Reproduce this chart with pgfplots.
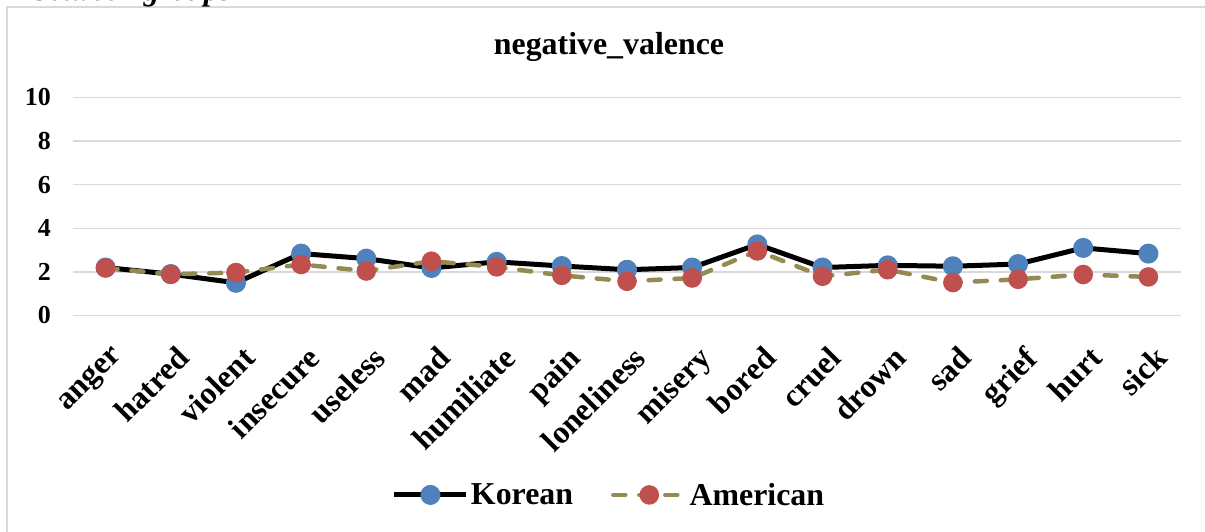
\documentclass[border=0pt]{standalone}
\usepackage{fontspec}
\setmainfont{Liberation Serif}
\usepackage{pgfplots}
\pgfplotsset{compat=1.18}
\definecolor{korblue}{HTML}{4F81BD}
\definecolor{amred}{HTML}{C0504D}
\definecolor{amolive}{HTML}{948A54}
\definecolor{gridgray}{HTML}{D9D9D9}
\begin{document}
\begin{tikzpicture}
\useasboundingbox (0,0) rectangle (1205bp,532bp);
\draw[color=gridgray, line width=1.5bp] (7bp,-20bp) -- (7bp,525bp) -- (1230bp,525bp);
\node[anchor=base west, font=\fontsize{31}{36}\selectfont\bfseries\itshape, inner sep=0pt] at (33bp,531bp) {between groups};
\node[font=\fontsize{32}{36}\selectfont\bfseries] at (609bp,485bp) {negative\_valence};
\begin{axis}[
  at={(73bp,216.5bp)}, anchor=south west,
  scale only axis, width=1108bp, height=218bp,
  xmin=-0.5, xmax=16.5, ymin=0, ymax=10,
  ytick={0,2,4,6,8,10},
  xtick={0,...,16},
  xticklabels={anger,hatred,violent,insecure,useless,mad,humiliate,pain,loneliness,misery,bored,cruel,drown,sad,grief,hurt,sick},
  axis line style={draw=none},
  major tick length=0pt,
  ymajorgrids, grid style={gridgray, line width=1.5bp},
  /pgf/number format/assume math mode=true,
  yticklabel style={font=\fontsize{26}{30}\selectfont\bfseries, anchor=east, inner sep=0pt, xshift=-22bp},
  xticklabel style={font=\fontsize{32}{36}\selectfont\bfseries, rotate=45, anchor=north east, inner sep=0pt, xshift=-17bp, yshift=-24bp},
  clip=false,
  legend columns=2,
  legend style={at={(axis description cs:0.4838,-0.823)}, anchor=center, draw=none, fill=none,
    font=\fontsize{32}{36}\selectfont\bfseries,
    /tikz/every even column/.append style={column sep=36bp},
    nodes={inner sep=2bp}},
  legend image code/.code={\draw[#1,mark repeat=2,mark phase=2] plot coordinates {(0bp,0bp) (36bp,0bp) (72bp,0bp)};},
]
\addplot[black, line width=5bp, line join=round, mark=*, mark size=7.5bp, mark options={fill=korblue, draw=korblue, solid}]
coordinates {(0,2.2) (1,1.9) (2,1.5) (3,2.84) (4,2.61) (5,2.18) (6,2.46) (7,2.27) (8,2.1) (9,2.2) (10,3.26) (11,2.2) (12,2.3) (13,2.26) (14,2.36) (15,3.1) (16,2.84)};
\addlegendentry{Korean}
\addplot[amolive, line width=4.5bp, line cap=round, dash pattern=on 12bp off 14bp, mark=*, mark size=7.5bp, mark options={fill=amred, draw=amred, solid}]
coordinates {(0,2.18) (1,1.89) (2,1.97) (3,2.34) (4,2.04) (5,2.49) (6,2.23) (7,1.84) (8,1.57) (9,1.72) (10,2.96) (11,1.8) (12,2.1) (13,1.51) (14,1.66) (15,1.88) (16,1.77)};
\addlegendentry{American}
\end{axis}
\end{tikzpicture}
\end{document}
